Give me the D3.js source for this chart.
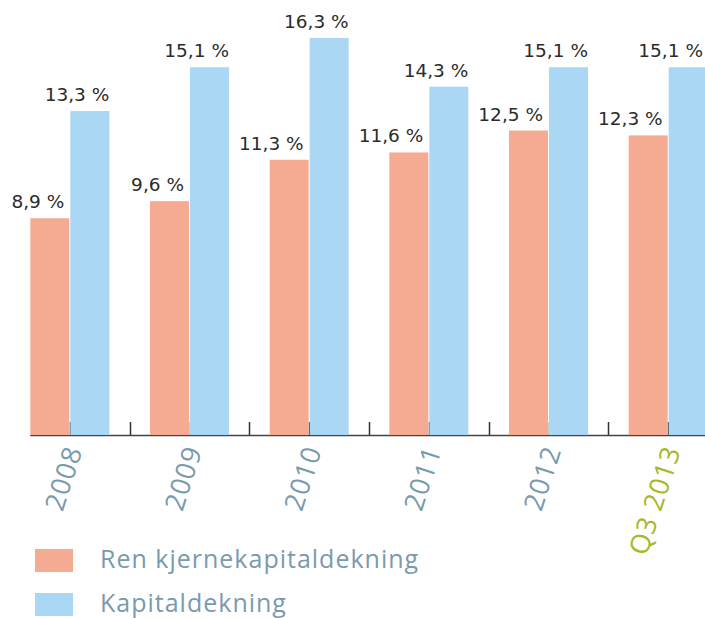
<!DOCTYPE html>
<html>
<head>
<meta charset="utf-8">
<script src="https://cdnjs.cloudflare.com/ajax/libs/d3/7.8.5/d3.min.js"></script>
<style>
  body { margin: 0; background: #fff; }
  svg { display: block; }
</style>
</head>
<body>
<div id="chart"></div>
<script>
// data
var years = ["2008", "2009", "2010", "2011", "2012", "Q3 2013"];
var series = ["Ren kjernekapitaldekning", "Kapitaldekning"];
var renKjerne = [8.9, 9.6, 11.3, 11.6, 12.5, 12.3];
var kapital = [13.3, 15.1, 16.3, 14.3, 15.1, 15.1];
var colors = ["#f4ab91", "#a9d7f4"];

var width = 705, height = 618;
var baseY = 435;

var svg = d3.select("#chart").append("svg")
  .attr("width", width)
  .attr("height", height);

var x = d3.scaleBand()
  .domain(years)
  .range([10, 728])
  .paddingInner(0.34)
  .paddingOuter(0.17);

var xs = d3.scaleBand()
  .domain(series)
  .range([0, x.bandwidth()])
  .paddingInner(0.025);

var y = d3.scaleLinear()
  .domain([0, 16.3])
  .range([baseY, 38]);

var rows = years.map((yr, i) => ({
  year: yr,
  vals: [renKjerne[i], kapital[i]]
}));

// axis baseline and ticks (ticks between groups and at group centres)
var tickXs = [];
years.forEach((yr, i) => {
  tickXs.push(x(yr) + x.bandwidth() / 2);
  if (i > 0) tickXs.push(x(yr) - x.step() * x.paddingInner() / 2);
});
svg.append("line")
  .attr("x1", x(years[0])).attr("x2", width)
  .attr("y1", baseY + 0.5).attr("y2", baseY + 0.5)
  .attr("stroke", "#444").attr("stroke-width", 1.5);
svg.selectAll(".tick").data(tickXs).enter().append("line")
  .attr("x1", d => Math.round(d) + 0.5).attr("x2", d => Math.round(d) + 0.5)
  .attr("y1", baseY - 13).attr("y2", baseY)
  .attr("stroke", "#333").attr("stroke-width", 1.5);

var g = svg.selectAll(".grp").data(rows).enter().append("g")
  .attr("transform", d => "translate(" + x(d.year) + ",0)");

g.selectAll("rect").data(d => d.vals.map((v, j) => ({ s: series[j], v: v, j: j })))
  .enter().append("rect")
  .attr("x", d => xs(d.s))
  .attr("width", xs.bandwidth())
  .attr("y", d => y(d.v))
  .attr("height", d => baseY - y(d.v))
  .attr("fill", d => colors[d.j]);

// value labels, kept inside the right edge
g.selectAll("text.val").data(d => d.vals.map((v, j) => ({ s: series[j], v: v, j: j, gx: x(d.year) })))
  .enter().append("text")
  .attr("class", "val")
  .attr("x", d => Math.min(xs(d.s) + xs.bandwidth() - (d.j === 0 ? 5 : 0), width - 2 - d.gx))
  .attr("y", d => y(d.v) - 10)
  .attr("text-anchor", "end")
  .attr("font-family", "DejaVu Sans")
  .attr("font-size", 18.5)
  .attr("fill", "#2b2b2b")
  .text(d => d3.format(".1f")(d.v).replace(".", ",") + " %");

// rotated year labels
svg.selectAll(".xl").data(years).enter().append("text")
  .attr("transform", d => "translate(" + (x(d) + x.bandwidth() / 2 + 4) + "," + (baseY + 12) + ") rotate(-72)")
  .attr("text-anchor", "end")
  .attr("dy", "0.35em")
  .attr("font-family", "Open Sans")
  .attr("font-size", 27)
  .attr("letter-spacing", 1)
  .attr("fill", d => d === "Q3 2013" ? "#a7b728" : "#7a9aae")
  .text(d => d);

// legend
var legend = svg.selectAll(".lg").data(series).enter().append("g")
  .attr("transform", (d, i) => "translate(35," + (549 + i * 44) + ")");
legend.append("rect")
  .attr("width", 38).attr("height", 23)
  .attr("fill", (d, i) => colors[i]);
legend.append("text")
  .attr("x", 65).attr("y", 19)
  .attr("font-family", "Open Sans")
  .attr("font-size", 25)
  .attr("letter-spacing", 1)
  .attr("fill", "#7a9aae")
  .text(d => d);
</script>
</body>
</html>
